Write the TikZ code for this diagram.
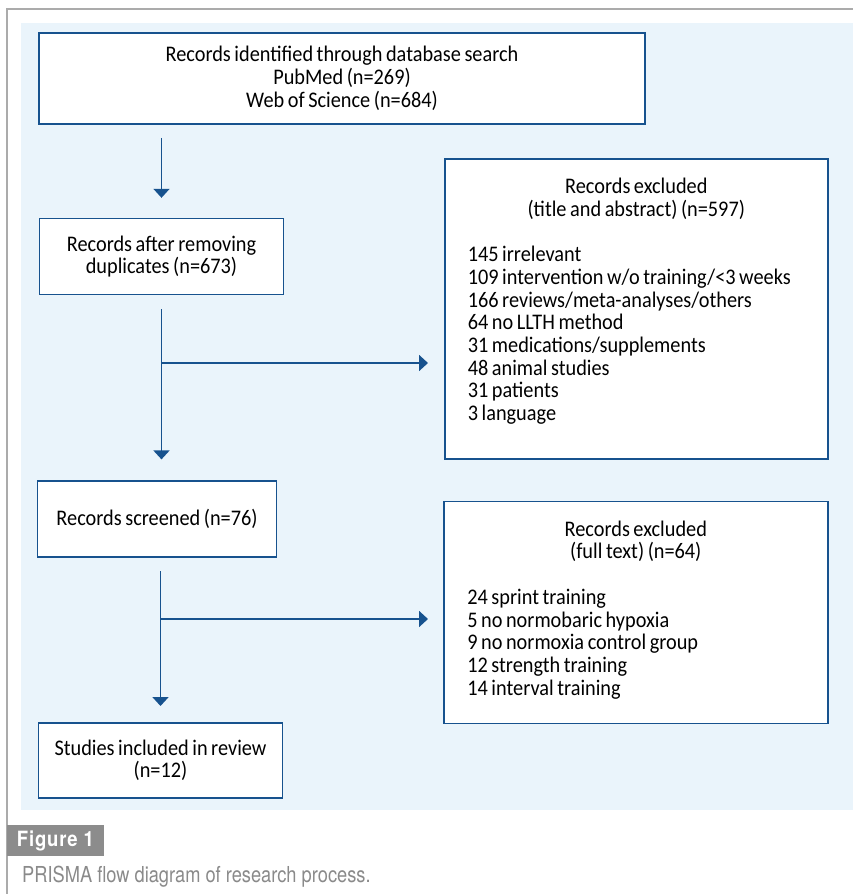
\documentclass[tikz,border=0pt]{standalone}
\usepackage{fontspec}
\setmainfont{Carlito}[FakeStretch=0.91, WordSpace=0.78]
\newfontfamily\capfont[FakeStretch=0.83]{TeX Gyre Heros}
\newfontfamily\tabfont[FakeStretch=0.88, LetterSpace=4]{TeX Gyre Heros}
\usetikzlibrary{positioning}
\usetikzlibrary{arrows.meta}

\definecolor{prismablue}{HTML}{17528E}
\definecolor{panelblue}{HTML}{EAF4FB}
\definecolor{framegray}{HTML}{ABABAB}
\definecolor{tabgray}{HTML}{8C8C8C}
\definecolor{captiongray}{HTML}{8A8A8A}

\begin{document}
\begin{tikzpicture}[x=1pt,y=-1pt]
      \tikzset{
        box/.style={draw=prismablue, line width=1.6pt, fill=white, inner sep=0pt,
          align=center, font=\fontsize{22.3}{22.7}\selectfont},
        listbox/.style={box, text width=337pt, align=flush left},
        link/.style={draw=prismablue, line width=1.8pt},
        flow/.style={link, -{Triangle[width=16pt,length=9pt]}},
      }
      \useasboundingbox (0,0) rectangle (853,894);
      % panel and frame
      \fill[panelblue] (21,23) rectangle (853,810);
      \draw[framegray, line width=2pt] (7,894) -- (7,9) -- (853,9);

      \node[box, minimum width=606pt, minimum height=91pt] (ident) at (342,78.5)
        {Records identified through database search\\PubMed (n=269)\\Web of Science (n=684)};
      \node[box, minimum width=244pt, minimum height=76pt,
        below=93pt of ident.south west, anchor=north west, xshift=0.5pt] (dedup)
        {Records after removing\\duplicates (n=673)};
      \node[box, minimum width=239pt, minimum height=76pt,
        below=185pt of dedup.south west, anchor=north west, xshift=-2pt] (screen)
        {Records screened (n=76)};
      \node[box, minimum width=244pt, minimum height=75pt,
        below=164pt of screen.south west, anchor=north west, xshift=1pt] (incl)
        {Studies included in review\\(n=12)};

      \node[listbox, minimum width=383pt, minimum height=300pt, anchor=north west] (excl1) at (444,158)
        {{\centering Records excluded\\(title and abstract) (n=597)\par}
         \vspace{\baselineskip}
         145 irrelevant\\
         109 intervention w/o training/<3 weeks\\
         166 reviews/meta-analyses/others\\
         64 no LLTH method\\
         31 medications/supplements\\
         48 animal studies\\
         31 patients\\
         3 language\par\nointerlineskip\vspace{15pt}\null};
      \node[listbox, minimum width=384pt, minimum height=222pt,
        below=41pt of excl1.south west, anchor=north west, xshift=-1pt] (excl2)
        {{\centering Records excluded\\(full text) (n=64)\par}
         \vspace{\baselineskip}
         24 sprint training\\
         5 no normobaric hypoxia\\
         9 no normoxia control group\\
         12 strength training\\
         14 interval training\par\nointerlineskip\vspace{5pt}\null};

      % junctions of the side branches
      \coordinate (j1) at (160,363);
      \coordinate (j2) at (160,619);

      \draw[flow, shorten <=13pt, shorten >=20pt] (ident.south -| dedup.north) -- (dedup.north);
      \draw[flow, shorten <=14pt, shorten >=21pt] (dedup.south) -- (dedup.south |- screen.north);
      \draw[flow, shorten <=13pt, shorten >=16pt] (screen.south -| incl.north) -- (incl.north);
      \draw[flow, shorten >=16pt] (j1 -| dedup.south) -- (j1 -| excl1.west);
      \draw[flow, shorten >=15pt] (j2 -| incl.north) -- (j2 -| excl2.west);

      % figure tab and caption
      \node[fill=tabgray, text=white, minimum width=97pt, minimum height=31pt, inner sep=0pt,
        font=\tabfont\bfseries\fontsize{21}{23}\selectfont] (tab) at (55.5,840.5) {Figure 1};
      \node[anchor=west, inner sep=0pt, text=captiongray,
        font=\capfont\fontsize{22}{24}\selectfont] (caption) at (22,877)
        {PRISMA flow diagram of research process.};
\end{tikzpicture}
\end{document}
